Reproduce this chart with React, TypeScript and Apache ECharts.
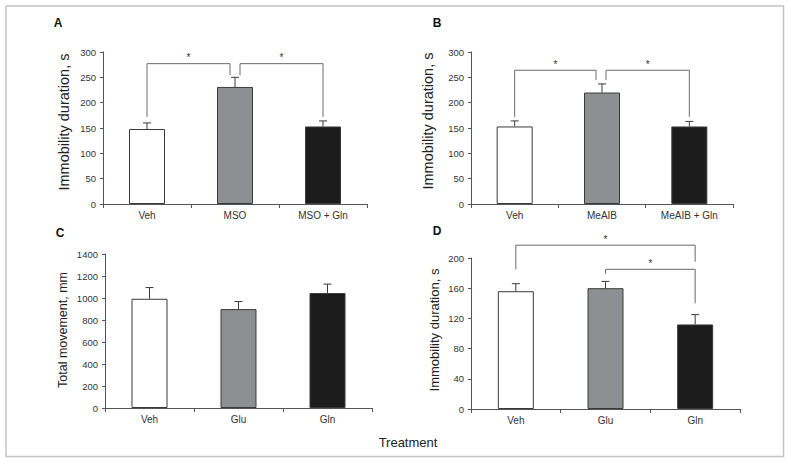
import React, { useEffect, useRef } from "react";
import * as echarts from "echarts";

// ---- data ----
const catsA = ["Veh", "MSO", "MSO + Gln"];
const meanA = [148, 231, 153];
const upperA = [160, 250, 164];

const catsB = ["Veh", "MeAIB", "MeAIB + Gln"];
const meanB = [153, 220, 153];
const upperB = [164, 237, 163];

const catsC = ["Veh", "Glu", "Gln"];
const meanC = [993, 899, 1045];
const upperC = [1095, 968, 1126];

const catsD = ["Veh", "Glu", "Gln"];
const meanD = [156, 160, 112];
const upperD = [166, 169, 125];

// significance brackets: [fromCat, toCat, fromBottom, top, toBottom]
const bracketsA = [
  [0, 1, 172, 277, 254],
  [1, 2, 254, 277, 172],
];
const bracketsB = [
  [0, 1, 172, 264, 245],
  [1, 2, 245, 264, 172],
];
const bracketsC: number[][] = [];
const bracketsD = [
  [0, 2, 185, 217, 195],
  [1, 2, 179, 185, 140],
];

const yTitles = ["Immobility duration, s", "Immobility duration, s", "Total movement, mm", "Immobility duration, s"];
const panelLetters = ["A", "B", "C", "D"];
const xTitle = "Treatment";
const yRanges = [
  [0, 300, 50],
  [0, 300, 50],
  [0, 1400, 200],
  [0, 200, 40],
];

// ---- style / layout ----
const FONT = "Liberation Sans, Arial, Helvetica, sans-serif";
const barColors = ["#ffffff", "#8e8f92", "#1c1c1c"];
const grids = [
  { left: 103, top: 52, width: 264, height: 152 },
  { left: 471, top: 52, width: 262, height: 152 },
  { left: 105, top: 254, width: 267, height: 154 },
  { left: 471, top: 258, width: 269, height: 151 },
];
// horizontal nudges (px) of bracket ends, per panel, per bracket
const nudges = [
  [[0, -5], [5, 0]],
  [[0, -6], [4, 0]],
  [],
  [[0, 0], [0, 0]],
];
// y-title centres and font sizes
const yTitlePos = [
  [64, 122, 14.5],
  [428, 121, 14.5],
  [63, 330, 12.5],
  [434, 330, 13],
];
const letterPos = [
  [58, 23],
  [437, 23],
  [60, 233],
  [437, 231],
];

export default function App() {
  const ref = useRef<HTMLDivElement>(null);
  useEffect(() => {
    if (!ref.current) return;
    const chart = echarts.init(ref.current, null, { renderer: "svg" });
    const cats = [catsA, catsB, catsC, catsD];
    const means = [meanA, meanB, meanC, meanD];
    const uppers = [upperA, upperB, upperC, upperD];
    const brackets = [bracketsA, bracketsB, bracketsC, bracketsD];

    const xAxis = cats.map((c, i) => ({
      type: "category",
      gridIndex: i,
      data: c,
      boundaryGap: true,
      axisLine: { show: true, lineStyle: { color: "#555", width: 1 } },
      axisTick: { show: true, length: 4, alignWithLabel: false, lineStyle: { color: "#555" } },
      axisLabel: { fontSize: 10, color: "#333", margin: 6, fontFamily: FONT },
      splitLine: { show: false },
    }));
    const yAxis = yRanges.map((r, i) => ({
      type: "value",
      gridIndex: i,
      min: r[0],
      max: r[1],
      interval: r[2],
      axisLine: { show: true, lineStyle: { color: "#555", width: 1 } },
      axisTick: { show: true, length: 3, lineStyle: { color: "#555" } },
      axisLabel: {
        fontSize: 9.5,
        color: "#333",
        margin: 7,
        fontFamily: FONT,
        formatter: (v: number) => String(v),
      },
      splitLine: { show: false },
    }));

    const series: any[] = [];
    for (let i = 0; i < 4; i++) {
      series.push({
        type: "bar",
        xAxisIndex: i,
        yAxisIndex: i,
        barWidth: 36,
        data: means[i].map((v, k) => ({
          value: v,
          itemStyle: { color: barColors[k], borderColor: "#3a3a3a", borderWidth: 1 },
        })),
        z: 2,
      });
      series.push({
        type: "custom",
        xAxisIndex: i,
        yAxisIndex: i,
        clip: false,
        z: 3,
        data: means[i].map((v, k) => [k, v, uppers[i][k]]),
        renderItem: (params: any, api: any) => {
          const x = api.value(0);
          const lo = api.coord([x, api.value(1)]);
          const hi = api.coord([x, api.value(2)]);
          const st = { stroke: "#3a3a3a", lineWidth: 1 };
          return {
            type: "group",
            children: [
              { type: "line", shape: { x1: lo[0], y1: lo[1], x2: hi[0], y2: hi[1] }, style: st },
              { type: "line", shape: { x1: hi[0] - 4, y1: hi[1], x2: hi[0] + 4, y2: hi[1] }, style: st },
            ],
          };
        },
      });
      if (brackets[i].length) {
        const nd = nudges[i];
        series.push({
          type: "custom",
          xAxisIndex: i,
          yAxisIndex: i,
          clip: false,
          z: 4,
          data: brackets[i],
          renderItem: (params: any, api: any) => {
            const n = nd[params.dataIndex] || [0, 0];
            const a = api.coord([api.value(0), api.value(2)]);
            const t1 = api.coord([api.value(0), api.value(3)]);
            const b = api.coord([api.value(1), api.value(4)]);
            const x1 = a[0] + n[0];
            const x2 = b[0] + n[1];
            const ty = t1[1];
            return {
              type: "group",
              children: [
                {
                  type: "polyline",
                  shape: { points: [[x1, a[1]], [x1, ty], [x2, ty], [x2, b[1]]] },
                  style: { stroke: "#6a6a6a", lineWidth: 1, fill: null },
                },
                {
                  type: "text",
                  style: {
                    text: "*",
                    x: (x1 + x2) / 2,
                    y: ty - 1,
                    align: "center",
                    verticalAlign: "bottom",
                    fontSize: 10,
                    fill: "#333",
                    fontFamily: FONT,
                  },
                },
              ],
            };
          },
        });
      }
    }

    chart.setOption({
      animation: false,
      backgroundColor: "#ffffff",
      grid: grids.map((g) => ({ ...g, containLabel: false })),
      xAxis,
      yAxis,
      series,
      graphic: [
        {
          type: "rect",
          shape: { x: 6, y: 6, width: 777.5, height: 450.5 },
          style: { fill: "none", stroke: "#c4c4c4", lineWidth: 1.5 },
          z: 0,
        },
        ...panelLetters.map((l, i) => ({
          type: "text",
          x: letterPos[i][0],
          y: letterPos[i][1],
          style: {
            text: l,
            align: "center",
            verticalAlign: "middle",
            fontSize: 12,
            fontWeight: "bold",
            fill: "#111",
            fontFamily: FONT,
          },
        })),
        ...yTitles.map((t, i) => ({
          type: "text",
          x: yTitlePos[i][0],
          y: yTitlePos[i][1],
          rotation: Math.PI / 2,
          style: {
            text: t,
            align: "center",
            verticalAlign: "middle",
            fontSize: yTitlePos[i][2],
            fill: "#222",
            fontFamily: FONT,
          },
        })),
        {
          type: "text",
          x: 408,
          y: 442,
          style: {
            text: xTitle,
            align: "center",
            verticalAlign: "middle",
            fontSize: 13,
            fill: "#222",
            fontFamily: FONT,
          },
        },
      ],
    });
    return () => chart.dispose();
  }, []);
  return (
    <div
      ref={ref}
      style={{ position: "fixed", left: 0, top: 0, width: 791, height: 465, background: "#fff" }}
    />
  );
}
